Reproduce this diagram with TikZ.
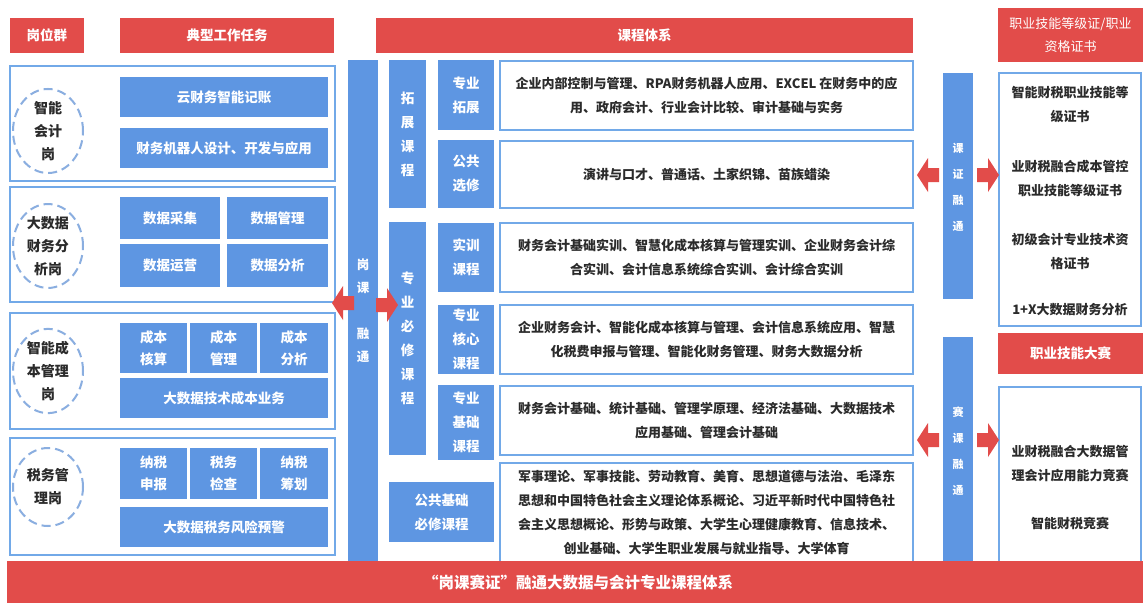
\documentclass[tikz,border=0pt]{standalone}
\usepackage{fontspec}
\setmainfont{Noto Sans CJK SC}
\usetikzlibrary{shapes.geometric}
\definecolor{hred}{HTML}{E24C4A}
\definecolor{hblue}{HTML}{5E96E2}
\definecolor{bline}{HTML}{72A9E8}
\definecolor{ringc}{HTML}{8AAEE0}
\definecolor{txt}{HTML}{2B2B2B}
\newcommand\mkbox[7]{%
  \pgfmathsetmacro\bxw{#5-#3}%
  \pgfmathsetmacro\bxh{#6-#4}%
  \pgfmathsetmacro\bxcx{(#3+#5)/2}%
  \pgfmathsetmacro\bxcy{(#4+#6)/2}%
  \node[#2, minimum width=\bxw pt, minimum height=\bxh pt] (#1) at (\bxcx,\bxcy) {#7};}
\tikzset{
  redhead/.style={fill=hred, draw=none, text=white, font=\bfseries\fontsize{13.5}{24}\selectfont, inner sep=0pt, align=center},
  redthin/.style={fill=hred, draw=none, text=white, font=\fontsize{13}{23}\selectfont, inner sep=0pt, align=center},
  panel/.style={draw=bline, line width=2pt, fill=white, inner sep=0pt},
  bluebox/.style={fill=hblue, draw=none, text=white, font=\bfseries\fontsize{13.5}{22}\selectfont, inner sep=0pt, align=center},
  labbox/.style={fill=hblue, draw=none, text=white, font=\bfseries\fontsize{13.5}{24}\selectfont, inner sep=0pt, align=center},
  vbar/.style={fill=hblue, draw=none, text=white, font=\bfseries\fontsize{13.5}{24}\selectfont, inner sep=0pt, align=center},
  content/.style={draw=bline, line width=2.5pt, fill=white, text=txt, font=\bfseries\fontsize{13}{24}\selectfont, inner sep=0pt, align=center},
  ring/.style={ellipse, draw=ringc, line width=2pt, dash pattern=on 9pt off 5pt, fill=white, minimum width=70pt, minimum height=78pt, inner sep=0pt, text=txt, font=\bfseries\fontsize{14}{23}\selectfont, align=center},
  certtext/.style={text=txt, font=\bfseries\fontsize{13}{24}\selectfont, inner sep=0pt, align=center},
  larrow/.pic={\fill[hred] (0,0) -- (11,-17) -- (11,-7) -- (22,-7) -- (22,7) -- (11,7) -- (11,17) -- cycle;},
  rarrow/.pic={\fill[hred] (0,0) -- (-11,-17) -- (-11,-7) -- (-22,-7) -- (-22,7) -- (-11,7) -- (-11,17) -- cycle;}
}
\begin{document}
\begin{tikzpicture}[x=1pt,y=-1pt]
\useasboundingbox (0,0) rectangle (1143,603);
\fill[white] (0,0) rectangle (1143,603);

% headers
\mkbox{h1}{redhead}{10}{18}{84}{53}{岗位群}
\mkbox{h2}{redhead}{120}{18}{334}{53}{典型工作任务}
\mkbox{h3}{redhead}{376}{18}{913}{53}{课程体系}
\mkbox{h4}{redthin}{998}{8}{1143}{62}{职业技能等级证/职业\\资格证书}

% left panels
\mkbox{p1}{panel}{10}{66}{335}{181}{}
\mkbox{p2}{panel}{10}{187}{335}{302}{}
\mkbox{p3}{panel}{10}{313}{335}{429}{}
\mkbox{p4}{panel}{10}{438}{335}{555}{}

\node[ring] (r1) at (48,131) {智能\\会计\\岗};
\node[ring] (r2) at (48,246) {大数据\\财务分\\析岗};
\node[ring] (r3) at (48,371) {智能成\\本管理\\岗};
\node[ring] (r4) at (48,487) {税务管\\理岗};

\mkbox{t11}{bluebox}{120}{77}{328}{117}{云财务智能记账}
\mkbox{t12}{bluebox}{120}{128}{328}{168}{财务机器人设计、开发与应用}

\mkbox{t21}{bluebox}{120}{197}{220}{239}{数据采集}
\mkbox{t22}{bluebox}{227}{197}{328}{239}{数据管理}
\mkbox{t23}{bluebox}{120}{244}{220}{287}{数据运营}
\mkbox{t24}{bluebox}{227}{244}{328}{287}{数据分析}

\mkbox{t31}{bluebox}{120}{323}{187}{373}{成本\\核算}
\mkbox{t32}{bluebox}{190}{323}{257}{373}{成本\\管理}
\mkbox{t33}{bluebox}{260}{323}{328}{373}{成本\\分析}
\mkbox{t34}{bluebox}{120}{378}{328}{418}{大数据技术成本业务}

\mkbox{t41}{bluebox}{120}{448}{187}{499}{纳税\\申报}
\mkbox{t42}{bluebox}{190}{448}{257}{499}{税务\\检查}
\mkbox{t43}{bluebox}{260}{448}{328}{499}{纳税\\筹划}
\mkbox{t44}{bluebox}{120}{507}{328}{547}{大数据税务风险预警}

% vertical bars
\mkbox{gk}{vbar}{348}{60}{378}{575}{}
\node[text=white, font=\bfseries\fontsize{12.5}{23}\selectfont, align=center, inner sep=0pt] (gkt) at (363,311) {岗\\课\\\mbox{}\\融\\通};

\mkbox{tz}{vbar}{389}{60}{426}{208}{拓\\展\\课\\程}
\mkbox{bx}{vbar}{389}{222}{426}{455}{专\\业\\必\\修\\课\\程}

% course labels
\mkbox{l1}{labbox}{438}{60}{494}{130}{专业\\拓展}
\mkbox{l2}{labbox}{438}{140}{494}{208}{公共\\选修}
\mkbox{l3}{labbox}{438}{223}{494}{292}{实训\\课程}
\mkbox{l4}{labbox}{438}{305}{494}{374}{专业\\核心\\课程}
\mkbox{l5}{labbox}{438}{385}{494}{460}{专业\\基础\\课程}
\mkbox{l6}{labbox}{389}{482}{494}{542}{公共基础\\必修课程}

% content boxes
\mkbox{c1}{content}{500}{61}{913}{130}{企业内部控制与管理、RPA财务机器人应用、EXCEL 在财务中的应\\用、政府会计、行业会计比较、审计基础与实务}
\mkbox{c2}{content}{500}{141}{913}{208}{演讲与口才、普通话、土家织锦、苗族蜡染}
\mkbox{c3}{content}{500}{223}{913}{292}{财务会计基础实训、智慧化成本核算与管理实训、企业财务会计综\\合实训、会计信息系统综合实训、会计综合实训}
\mkbox{c4}{content}{500}{305}{913}{374}{企业财务会计、智能化成本核算与管理、会计信息系统应用、智慧\\化税费申报与管理、智能化财务管理、财务大数据分析}
\mkbox{c5}{content}{500}{386}{913}{455}{财务会计基础、统计基础、管理学原理、经济法基础、大数据技术\\应用基础、管理会计基础}
\mkbox{c6}{content}{500}{463}{913}{562}{军事理论、军事技能、劳动教育、美育、思想道德与法治、毛泽东\\思想和中国特色社会主义理论体系概论、习近平新时代中国特色社\\会主义思想概论、形势与政策、大学生心理健康教育、信息技术、\\创业基础、大学生职业发展与就业指导、大学体育}

% right bars
\mkbox{kz}{vbar}{943}{73}{973}{299}{}
\node[text=white, font=\bfseries\fontsize{11}{26}\selectfont, align=center, inner sep=0pt] (kzt) at (958,187) {课\\证\\融\\通};
\mkbox{sk}{vbar}{943}{337}{973}{575}{}
\node[text=white, font=\bfseries\fontsize{11}{26}\selectfont, align=center, inner sep=0pt] (skt) at (958,451) {赛\\课\\融\\通};

% right column
\mkbox{cert}{panel}{999}{73}{1141}{326}{}
\node[certtext] (ct1) at (1070,105) {智能财税职业技能等\\级证书};
\node[certtext] (ct2) at (1070,178.5) {业财税融合成本管控\\职业技能等级证书};
\node[certtext] (ct3) at (1070,251.5) {初级会计专业技术资\\格证书};
\node[certtext] (ct4) at (1070,310) {1+X大数据财务分析};

\mkbox{h5}{redhead}{998}{333}{1143}{374}{职业技能大赛}
\mkbox{comp}{panel}{999}{387}{1141}{562}{}
\node[certtext] (cp1) at (1070,463.5) {业财税融合大数据管\\理会计应用能力竞赛};
\node[certtext] (cp2) at (1070,523) {智能财税竞赛};

% block arrows
\pic at (332,303) {larrow};
\pic at (398,305) {rarrow};
\pic at (917,175) {larrow};
\pic at (999,175) {rarrow};
\pic at (917,440) {larrow};
\pic at (999,440) {rarrow};

% bottom bar
\mkbox{bottom}{redhead}{7}{561}{1143}{603}{}
\node[text=white, font=\bfseries\fontsize{15.5}{20}\selectfont, inner sep=0pt] (btxt) at (578,583) {“岗课赛证”融通大数据与会计专业课程体系};
\end{tikzpicture}
\end{document}
